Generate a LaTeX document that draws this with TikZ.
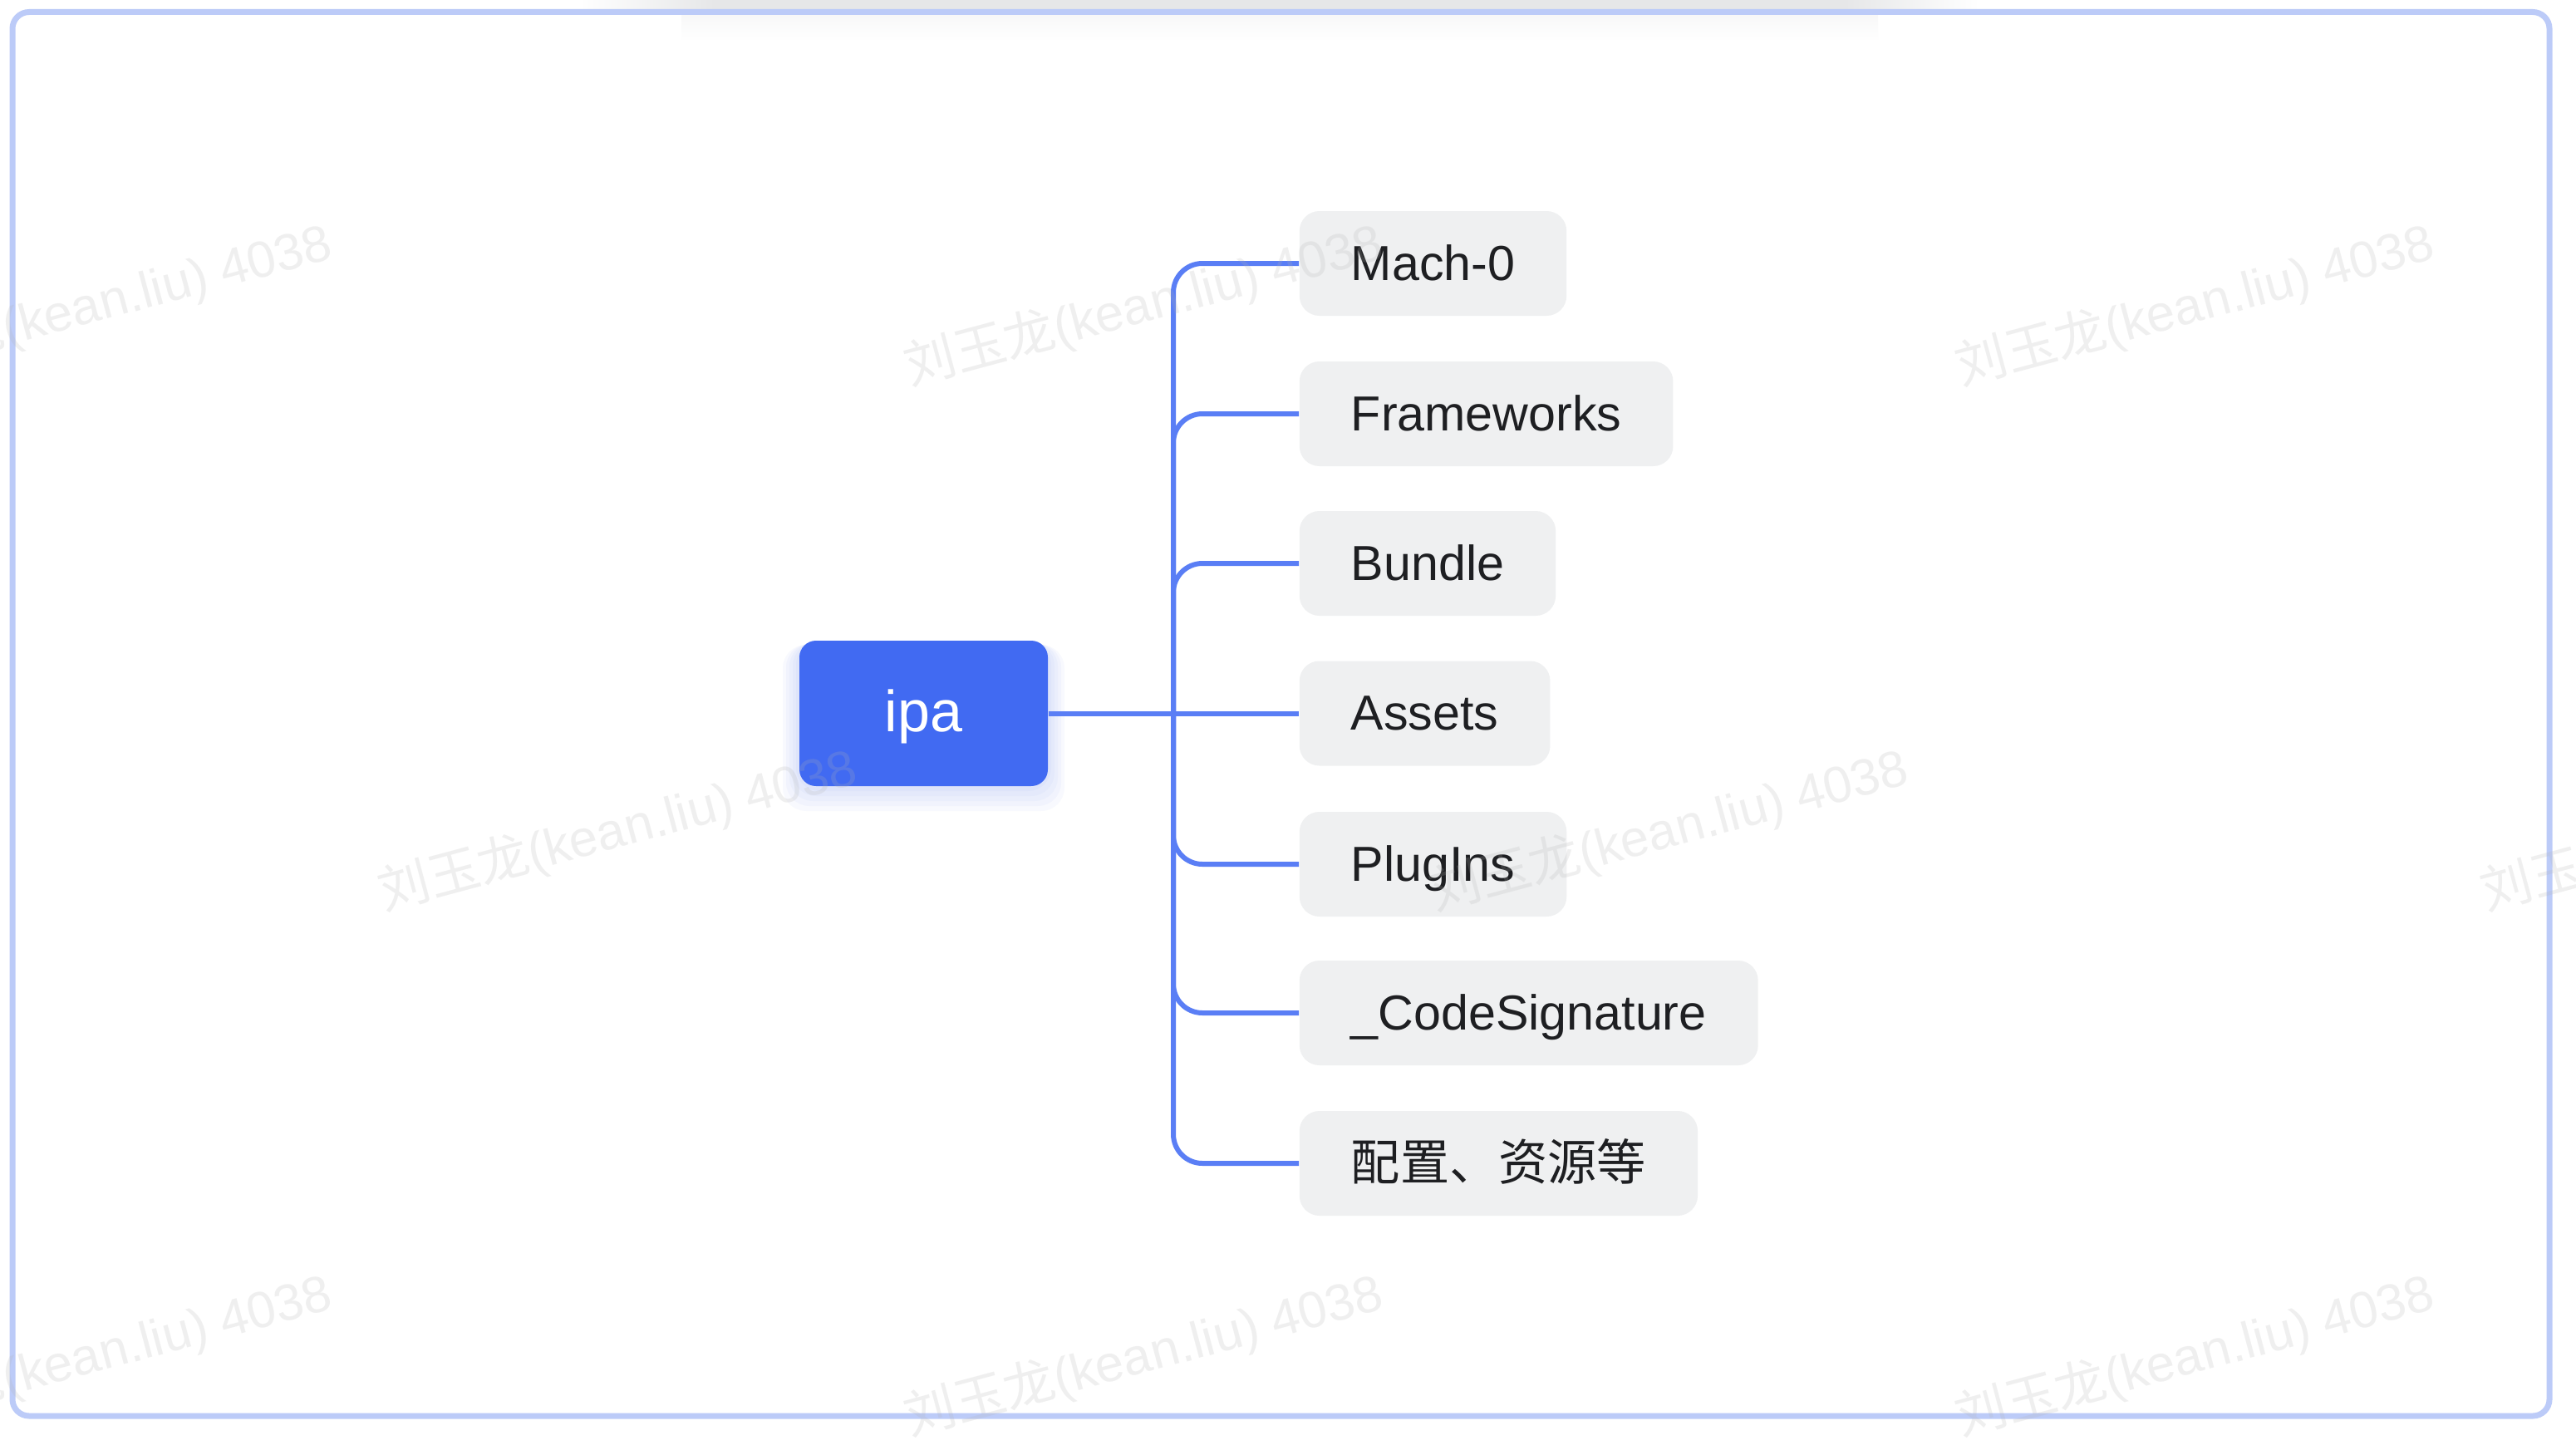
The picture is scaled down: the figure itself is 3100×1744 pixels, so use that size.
\documentclass[tikz,border=0pt]{standalone}
\usepackage{fontspec}
\setmainfont{Liberation Sans}
\newfontfamily\cjk{Noto Sans CJK SC}
\usepackage{xcolor}
\usepackage{tikz}

\definecolor{rootblue}{HTML}{416AF2}
\definecolor{linkblue}{HTML}{5A7EF5}
\definecolor{leafgray}{HTML}{EFF0F1}
\definecolor{inkdark}{HTML}{1E1F22}
\definecolor{frameblue}{HTML}{BCCBF8}
\definecolor{shadowgray}{HTML}{E6E7E8}

\begin{document}
\begin{tikzpicture}[x=0.25pt,y=-0.25pt,
  root/.style={fill=rootblue,rounded corners=5pt,text=white,
    font=\fontsize{17.5}{20}\selectfont,minimum width=74.75pt,minimum height=43.75pt,
    text height=11.2pt,text depth=0pt,inner sep=0pt},
  leaf/.style={fill=leafgray,rounded corners=6pt,text=inkdark,
    font=\fontsize{14.8}{18}\selectfont,minimum height=31.5pt,inner xsep=15.5pt,
    inner ysep=0pt,text height=10pt,text depth=0pt,anchor=west},
  branch/.style={draw=linkblue,line width=1.5pt,rounded corners=8.75pt},
  glow/.style={fill=rootblue,opacity=0.035,rounded corners=7pt},
  stamp/.style={anchor=base west,rotate=15,text=black!30,text opacity=0.2,
    font=\fontsize{15.4}{18}\selectfont,inner sep=0pt}]

  \useasboundingbox (0,0) rectangle (3100,1744);
  \fill[white] (0,0) rectangle (3100,1744);

  % shadow along the top
  \shade[left color=white,right color=shadowgray] (697,0) rectangle (860,12);
  \fill[shadowgray] (860,0) rectangle (2220,12);
  \shade[left color=shadowgray,right color=white] (2220,0) rectangle (2382,12);
  \shade[top color=shadowgray!30,bottom color=white] (820,18) rectangle (2260,50);

  % frame
  \draw[frameblue,line width=1.75pt,rounded corners=5pt] (15,14.5) rectangle (3068,1704);

  % soft glow under the root
  \foreach \g in {1,...,5}
    \fill[glow] (962-4*\g,771+\g) rectangle (1261+4*\g,946+6*\g);

  \node[root] (ipa) at (1111.5,858.5) {ipa};

  \node[leaf] (macho) at (1563,317) {Mach-0};
  \node[leaf] (frameworks) at (1563,498) {Frameworks};
  \node[leaf] (bundle) at (1563,678) {Bundle};
  \node[leaf] (assets) at (1563,858.5) {Assets};
  \node[leaf] (plugins) at (1563,1040) {PlugIns};
  \node[leaf] (codesign) at (1563,1219) {\_CodeSignature};
  \node[leaf] (config) at (1563,1400) {\cjk 配置、资源等};

  \coordinate (fork) at (1412,858.5);
  \draw[branch] (ipa.east) -- (assets.west);
  \foreach \leafname in {macho,frameworks,bundle,plugins,codesign,config}
    \draw[branch] (fork) |- (\leafname.west);

  % watermark
  \foreach \wx/\wy [count=\k] in {-170/464,1095/464,2360/464,462/1096,1727/1096,2992/1096,-170/1728,1095/1728,2360/1728}
    \node[stamp] (stamp\k) at (\wx,\wy) {{\cjk 刘玉龙}(kean.liu) 4038};
\end{tikzpicture}
\end{document}
